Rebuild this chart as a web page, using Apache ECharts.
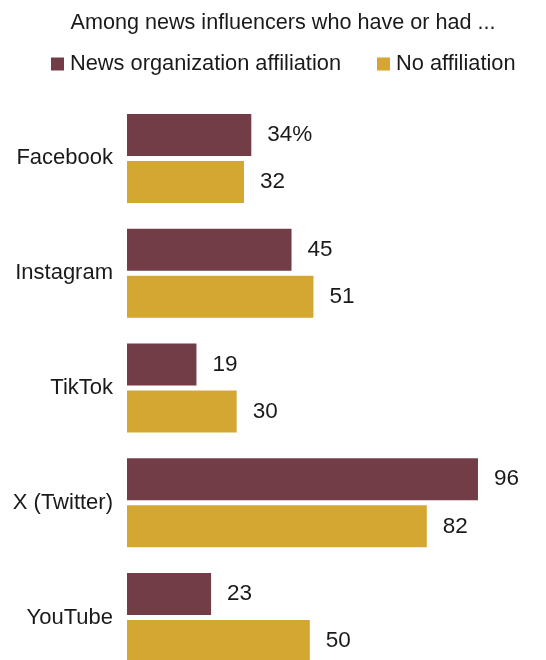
<!DOCTYPE html>
<html>
<head>
<meta charset="utf-8">
<script src="https://cdn.jsdelivr.net/npm/echarts@6/dist/echarts.min.js"></script>
<style>html,body{margin:0;padding:0;background:#fff}#c{width:546px;height:660px}</style>
</head>
<body>
<div id="c"></div>
<script>
const categories = ["Facebook", "Instagram", "TikTok", "X (Twitter)", "YouTube"];
const affiliated = [34, 45, 19, 96, 23];
const notAffiliated = [32, 51, 30, 82, 50];
const seriesNames = ["News organization affiliation", "No affiliation"];
const titleText = "Among news influencers who have or had ...";

const font = "'Liberation Sans', Arial, sans-serif";
const chart = echarts.init(document.getElementById('c'), null, {renderer: 'canvas'});
chart.setOption({
  animation: false,
  title: {
    text: titleText, left: 278, textAlign: 'center', top: 7,
    textStyle: {fontFamily: font, fontSize: 21.6, fontWeight: 'normal', color: '#1a1a1a'}
  },
  legend: {
    data: seriesNames, left: 46, top: 48, itemWidth: 13, itemHeight: 13, itemGap: 36,
    icon: 'rect',
    textStyle: {fontFamily: font, fontSize: 21.8, color: '#1a1a1a', padding: [0,0,0,1]}
  },
  grid: {left: 127, right: 53.4, top: 101, height: 574, containLabel: false, outerBoundsMode: 'none'},
  xAxis: {type: 'value', min: 0, max: 100, show: false},
  yAxis: {
    type: 'category', data: categories, inverse: true,
    axisLine: {show: false}, axisTick: {show: false},
    axisLabel: {margin: 14, fontFamily: font, fontSize: 22, color: '#1a1a1a', padding: [4,0,0,0]}
  },
  series: [
    {
      name: seriesNames[0], type: 'bar', data: affiliated,
      barWidth: 42, barGap: '12%', barCategoryGap: '22.4%',
      itemStyle: {color: '#733d47'},
      label: {show: true, position: 'right', distance: 16, fontFamily: font, fontSize: 22.5, color: '#1a1a1a',
        formatter: p => p.dataIndex === 0 ? p.value + '%' : String(p.value)}
    },
    {
      name: seriesNames[1], type: 'bar', data: notAffiliated,
      barWidth: 42, barGap: '12%', barCategoryGap: '22.4%',
      itemStyle: {color: '#d3a731'},
      label: {show: true, position: 'right', distance: 16, fontFamily: font, fontSize: 22.5, color: '#1a1a1a'}
    }
  ]
});
</script>
</body>
</html>
